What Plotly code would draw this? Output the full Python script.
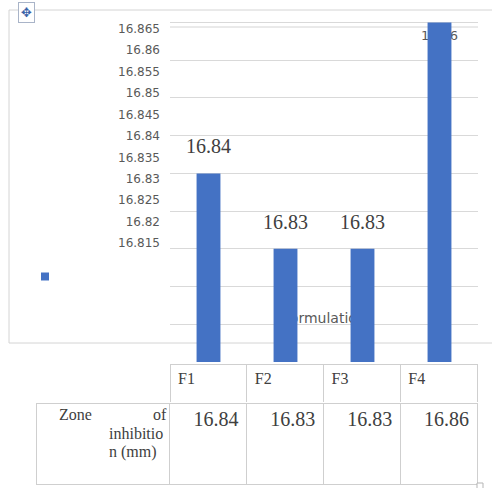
import plotly.graph_objects as go

W, H = 492, 488

# ---- data -----------------------------------------------------------------
formulations = ["F1", "F2", "F3", "F4"]
zone_mm = [16.84, 16.83, 16.83, 16.86]
tick_vals = [16.815, 16.82, 16.825, 16.83, 16.835, 16.84,
             16.845, 16.85, 16.855, 16.86, 16.865]
row_title = ["Zone", "of", "inhibitio", "n (mm)"]
axis_title = "Formulation"

# ---- styling --------------------------------------------------------------
BLUE = "#4472C4"
GRID = "#d9d9d9"
FRAME = "#d4d4d4"
TBL_LINE = "#cfcfcf"
TXT = "#404040"
TICK_TXT = "#595959"
SERIF = "Liberation Serif"
SANS = "DejaVu Sans"


def fx(p):
    return p / W


def fy(p):
    return 1 - p / H


plot_x = [fx(170), fx(478)]
plot_y = [fy(362), fy(10)]
y_range = [16.815, 16.86166]      # value axis behind the bars (gridlines)
tick_range = [16.7872, 16.8694]   # scale carrying the printed tick labels

fig = go.Figure()

# text that sits behind the columns (drawn on the base subplot)
top_i = zone_mm.index(max(zone_mm))
fig.add_trace(go.Scatter(
    x=[top_i], y=[zone_mm[top_i]], mode="markers+text",
    marker=dict(size=11, opacity=0),
    text=[f"{zone_mm[top_i]:.2f}"], textposition="bottom center",
    textfont=dict(family=SANS, size=13, color=TICK_TXT),
    xaxis="x", yaxis="y", showlegend=False, hoverinfo="skip",
))
fig.add_trace(go.Scatter(
    x=[(len(formulations) - 1) / 2], y=[y_range[0] + 0.0056], mode="text",
    text=[axis_title], textposition="middle center",
    textfont=dict(family=SANS, size=14, color=TICK_TXT),
    xaxis="x", yaxis="y", showlegend=False, hoverinfo="skip",
))
# legend key
fig.add_trace(go.Scatter(
    x=[None], y=[None], mode="markers", name=" ",
    marker=dict(symbol="square", size=8, color=BLUE),
    xaxis="x", yaxis="y", showlegend=True,
))
# carrier for the tick-label axis
fig.add_trace(go.Scatter(x=[None], y=[None], mode="markers", xaxis="x",
                         yaxis="y3", showlegend=False, hoverinfo="skip"))

# columns (overlay subplot so they cover the text above)
fig.add_trace(go.Bar(
    x=formulations, y=zone_mm, marker=dict(color=BLUE, line=dict(width=0)),
    xaxis="x2", yaxis="y2", showlegend=False,
))

# value labels above the shorter columns
for name, v in zip(formulations, zone_mm):
    if v == max(zone_mm):
        continue
    fig.add_annotation(x=name, y=v, xref="x2", yref="y2", text=f"{v:.2f}",
                       showarrow=False, yshift=27, yanchor="middle",
                       font=dict(family=SERIF, size=20, color=TXT))

# ---- data table -----------------------------------------------------------
fig.add_trace(go.Table(
    domain=dict(x=[fx(170), fx(477)], y=[fy(403), fy(364)]),
    header=dict(values=formulations, height=39, align="left",
                fill_color="white", line=dict(color=TBL_LINE, width=1),
                font=dict(family=SERIF, size=16, color=TXT)),
    cells=dict(values=[[] for _ in formulations]),
))
fig.add_trace(go.Table(
    domain=dict(x=[fx(36), fx(477)], y=[fy(487), fy(403)]),
    columnwidth=[134, 77, 77, 77, 77],
    header=dict(values=[""] + [f"{v:.2f}" for v in zone_mm], height=81,
                align="right", fill_color="white",
                line=dict(color=TBL_LINE, width=1),
                font=dict(family=SERIF, size=20, color=TXT)),
    cells=dict(values=[[] for _ in range(len(formulations) + 1)]),
))

# row heading of the table, justified over three lines
row_font = dict(family=SERIF, size=16, color=TXT)
row_pos = [(57, 414, "left"), (169, 414, "right"),
           (165, 433, "right"), (159, 452, "right")]
for label, (px, py, anchor) in zip(row_title, row_pos):
    fig.add_annotation(x=fx(px), y=fy(py), xref="paper", yref="paper",
                       xanchor=anchor, yanchor="middle", text=label,
                       showarrow=False, font=row_font)

# move handle in the corner
fig.add_annotation(x=fx(26.5), y=fy(12.5), xref="paper", yref="paper",
                   xanchor="center", yanchor="middle",
                   text="\u2725", showarrow=False, bgcolor="white",
                   bordercolor="#a9b4c8", borderwidth=1, borderpad=2,
                   font=dict(family=SANS, size=13, color="#3a63a8"))

# chart frame and plot-area top edge
shapes = [
    dict(type="line", x0=fx(9), x1=fx(9), y0=fy(10), y1=fy(343)),
    dict(type="line", x0=fx(9), x1=1, y0=fy(10), y1=fy(10)),
    dict(type="line", x0=fx(9), x1=1, y0=fy(343), y1=fy(343)),
    dict(type="line", x0=fx(170), x1=fx(478), y0=fy(27), y1=fy(27)),
]
for s in shapes:
    s.update(xref="paper", yref="paper", layer="below",
             line=dict(color=FRAME, width=1))
    fig.add_shape(**s)
fig.add_shape(type="rect", xref="paper", yref="paper",
              x0=fx(477), x1=fx(483), y0=fy(489), y1=fy(483),
              line=dict(color="#b5b5b5", width=1), fillcolor="white")

hidden = dict(showgrid=False, showticklabels=False, zeroline=False,
              showline=False, ticks="")
fig.update_layout(
    width=W, height=H,
    margin=dict(l=0, r=0, t=0, b=0),
    paper_bgcolor="white", plot_bgcolor="rgba(0,0,0,0)",
    bargap=0.69,
    xaxis=dict(domain=plot_x, type="linear", range=[-0.5, 3.5], **hidden),
    xaxis2=dict(overlaying="x", type="category", range=[-0.5, 3.5], **hidden),
    yaxis=dict(domain=plot_y, range=y_range, tick0=16.815, dtick=0.005,
               showgrid=True, gridcolor=GRID, gridwidth=1,
               showticklabels=False, zeroline=False, showline=False, ticks=""),
    yaxis2=dict(overlaying="y", range=y_range, **hidden),
    yaxis3=dict(overlaying="y", anchor="free", position=fx(170), side="left",
                range=tick_range, tickvals=tick_vals, showgrid=False,
                zeroline=False, showline=False, ticks="", ticklabelstandoff=10,
                tickfont=dict(family=SANS, size=12, color=TICK_TXT)),
    legend=dict(x=fx(25), y=fy(262), xanchor="left", yanchor="top",
                bgcolor="rgba(0,0,0,0)", font=dict(size=10, color="white")),
    showlegend=True,
)

fig.write_html("out.html")
